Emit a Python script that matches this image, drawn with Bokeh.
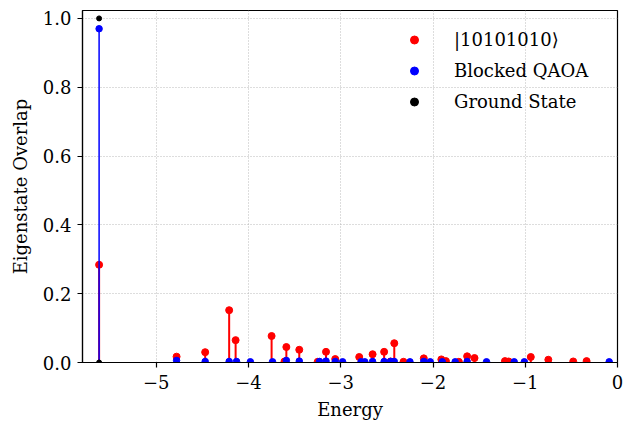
from bokeh.plotting import figure
from bokeh.models import Range1d, FixedTicker, Legend, LegendItem
from bokeh.embed import file_html
from bokeh.resources import INLINE

# |10101010> overlaps with eigenstates
red_energy = [-5.62, -4.78, -4.47, -4.21, -4.14, -3.75, -3.61, -3.59, -3.45, -3.25, -3.16, -3.06,
              -2.80, -2.655, -2.53, -2.46, -2.42, -2.32, -2.10, -1.91, -1.86, -1.72, -1.63, -1.55,
              -1.22, -1.18, -0.94, -0.75, -0.48, -0.335]
red_overlap = [0.284, 0.017, 0.030, 0.152, 0.065, 0.077, 0.003, 0.045, 0.037, 0.002, 0.031, 0.010,
               0.016, 0.024, 0.031, 0.003, 0.056, 0.002, 0.012, 0.009, 0.004, 0.002, 0.018, 0.013,
               0.004, 0.003, 0.016, 0.008, 0.003, 0.004]

# Blocked QAOA overlaps with eigenstates
blue_energy = [-5.62, -4.78, -4.47, -4.21, -4.13, -3.98, -3.74, -3.59, -3.45, -3.23, -3.16, -3.06,
               -2.98, -2.78, -2.74, -2.655, -2.53, -2.46, -2.42, -2.25, -2.10, -2.03, -1.90, -1.76,
               -1.63, -1.42, -1.12, -1.01, -0.09]
blue_overlap = [0.970, 0.006, 0.003, 0.003, 0.003, 0.002, 0.002, 0.006, 0.004, 0.003, 0.004, 0.003,
                0.002, 0.002, 0.002, 0.003, 0.003, 0.003, 0.003, 0.002, 0.003, 0.002, 0.002, 0.002,
                0.003, 0.002, 0.002, 0.002, 0.002]

# Ground state
black_energy = [-5.62, -5.62]
black_overlap = [1.0, 0.0]

x_ticks = [-5, -4, -3, -2, -1, 0]
x_tick_labels = ["\u22125", "\u22124", "\u22123", "\u22122", "\u22121", "0"]
y_ticks = [0.0, 0.2, 0.4, 0.6, 0.8, 1.0]
y_tick_labels = ["0.0", "0.2", "0.4", "0.6", "0.8", "1.0"]

FONT = "DejaVu Serif"
FS = "18px"

p = figure(width=641, height=422, output_backend="svg", toolbar_location=None,
           x_range=Range1d(-5.80, 0.0), y_range=Range1d(0.0, 1.023),
           min_border_left=82, min_border_right=24, min_border_top=10, min_border_bottom=60)
p.background_fill_color = "white"
p.border_fill_color = "white"
p.outline_line_color = "black"
p.outline_line_width = 1.2

for ax in (p.xaxis[0], p.yaxis[0]):
    ax.axis_line_color = "black"
    ax.axis_line_width = 1.2
    ax.major_tick_line_color = "black"
    ax.major_tick_line_width = 1.2
    ax.major_tick_out = 5
    ax.major_tick_in = 0
    ax.minor_tick_line_color = None
    ax.major_label_text_font = FONT
    ax.major_label_text_font_size = FS
    ax.major_label_text_color = "black"
    ax.axis_label_text_font = FONT
    ax.axis_label_text_font_size = FS
    ax.axis_label_text_font_style = "normal"
    ax.axis_label_text_color = "black"

p.xaxis[0].ticker = FixedTicker(ticks=x_ticks)
p.xaxis[0].major_label_overrides = {t: l for t, l in zip(x_ticks, x_tick_labels)}
p.yaxis[0].ticker = FixedTicker(ticks=y_ticks)
p.yaxis[0].major_label_overrides = {t: l for t, l in zip(y_ticks, y_tick_labels)}
p.xaxis[0].axis_label = "Energy"
p.yaxis[0].axis_label = "Eigenstate Overlap"
p.xaxis[0].major_label_standoff = 7
p.yaxis[0].major_label_standoff = 6
p.xaxis[0].axis_label_standoff = 7
p.yaxis[0].axis_label_standoff = 9

for g in (p.xgrid[0], p.ygrid[0]):
    g.grid_line_color = "#a8a8a8"
    g.grid_line_width = 0.8
    g.grid_line_dash = "1 2"

# stems
p.segment(x0=red_energy, y0=[0] * len(red_energy), x1=red_energy, y1=red_overlap,
          line_color="#ff0000", line_width=2)
r_red = p.scatter(red_energy, red_overlap, size=7, color="#ff0000")
p.segment(x0=blue_energy, y0=[0] * len(blue_energy), x1=blue_energy, y1=blue_overlap,
          line_color="#0000ff", line_width=1.5)
r_blue = p.scatter(blue_energy, blue_overlap, size=6.5, color="#0000ff")
r_black = p.scatter(black_energy, black_overlap, size=5, color="black")

legend = Legend(items=[LegendItem(label="|10101010\u27e9", renderers=[r_red]),
                       LegendItem(label="Blocked QAOA", renderers=[r_blue]),
                       LegendItem(label="Ground State", renderers=[r_black])],
                location=(322, 245))
legend.background_fill_alpha = 0
legend.border_line_alpha = 0
legend.label_text_font = FONT
legend.label_text_font_size = FS
legend.label_text_color = "black"
legend.glyph_width = 20
legend.glyph_height = 31
legend.label_height = 31
legend.label_standoff = 30
legend.spacing = 0
legend.padding = 0
legend.margin = 0
p.add_layout(legend, "center")

open("out.html", "w").write(file_html(p, INLINE))
